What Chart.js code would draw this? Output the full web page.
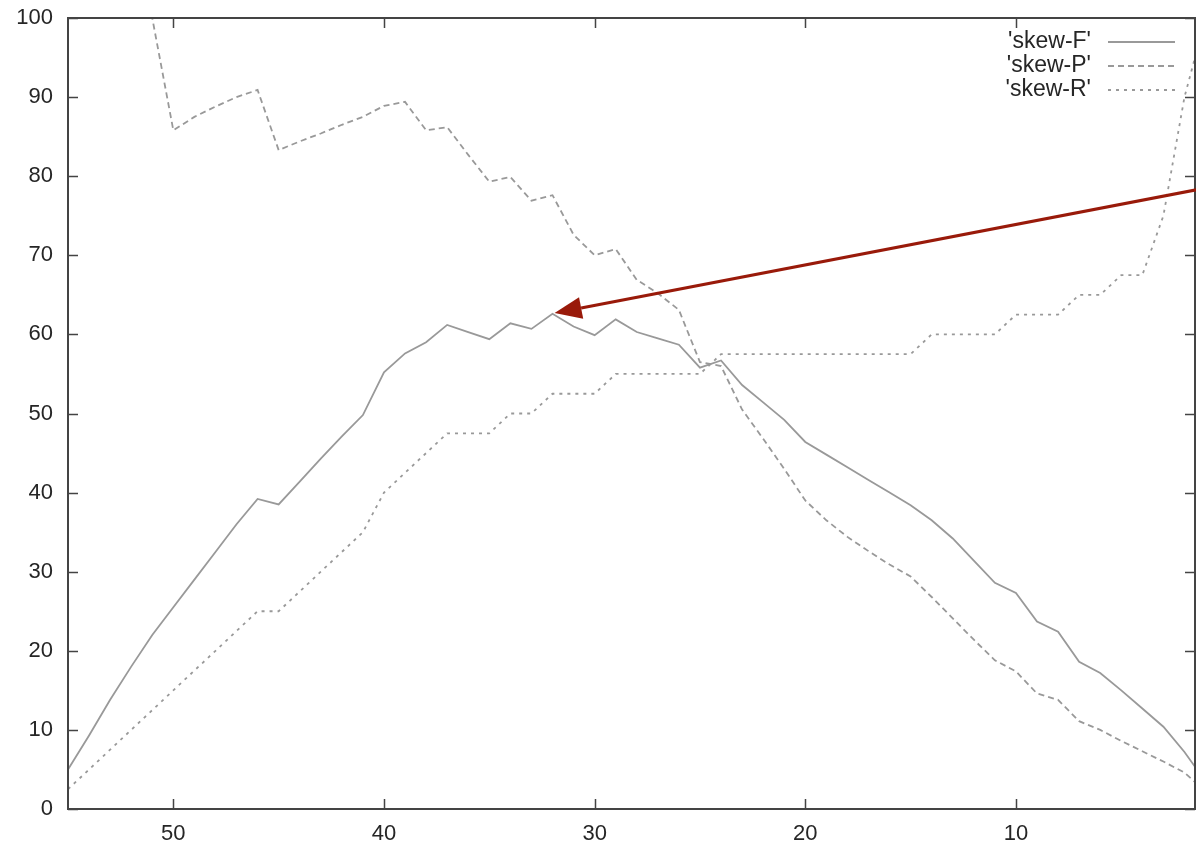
<!DOCTYPE html>
<html>
<head>
<meta charset="utf-8">
<script src="https://cdn.jsdelivr.net/npm/chart.js@4.4.1/dist/chart.umd.min.js"></script>
<style>
  html, body { margin: 0; padding: 0; background: #fff; }
  #wrap { width: 1196px; height: 846px; }
</style>
</head>
<body>
<div id="wrap"><canvas id="myChart" width="1196" height="846"></canvas></div>
<script>
// x runs from 55 down to 1
const steps = [55,54,53,52,51,50,49,48,47,46,45,44,43,42,41,40,39,38,37,36,35,34,33,32,31,30,29,28,
               27,26,25,24,23,22,21,20,19,18,17,16,15,14,13,12,11,10,9,8,7,6,5,4,3,2,1];

const skewF = [5.0,9.3,13.8,18.0,22.0,25.5,29.0,32.5,36.0,39.2,38.5,41.4,44.3,47.1,49.8,55.2,57.6,59.0,61.2,60.3,
               59.4,61.4,60.7,62.6,61.0,59.9,61.9,60.3,59.5,58.7,55.8,56.7,53.6,51.4,49.2,46.4,44.8,43.2,41.6,40.0,
               38.4,36.5,34.2,31.4,28.6,27.3,23.7,22.4,18.6,17.2,15.0,12.7,10.4,7.2,3.5];

const skewP = [100,100,100,100,100,85.8,87.5,88.8,90.0,90.9,83.3,84.4,85.4,86.5,87.5,88.9,89.4,85.8,86.2,82.7,
               79.3,79.9,76.9,77.6,72.6,70.0,70.8,66.9,65.2,63.1,56.5,56.0,50.5,46.8,43.0,39.0,36.5,34.4,32.6,30.9,
               29.4,26.8,24.1,21.4,18.8,17.4,14.6,13.8,11.1,10.0,8.6,7.3,6.0,4.6,2.2];

const skewR = [2.5,5.0,7.5,10.0,12.5,15.0,17.5,20.0,22.5,25.0,25.0,27.5,30.0,32.5,35.0,40.0,42.5,45.0,47.5,47.5,
               47.5,50.0,50.0,52.5,52.5,52.5,55.0,55.0,55.0,55.0,55.0,57.5,57.5,57.5,57.5,57.5,57.5,57.5,57.5,57.5,
               57.5,60.0,60.0,60.0,60.0,62.5,62.5,62.5,65.0,65.0,67.5,67.5,75.0,90.0,100];

const xTicks = [50, 40, 30, 20, 10];
const yTicks = [0, 10, 20, 30, 40, 50, 60, 70, 80, 90, 100];

// arrow annotation, in data units: tail and tip
const arrowFrom = {x: 1.0, y: 78.5};
const arrowTo = {x: 31.9, y: 62.7};

const FONT = '"Liberation Sans", Arial, Helvetica, sans-serif';
const LINE_GRAY = '#999999';

function pts(ys) {
    return steps.map((s, i) => ({x: s, y: ys[i]}));
}

const frameAndTicks = {
    id: 'frameAndTicks',
    afterDatasetsDraw(chart) {
        const ctx = chart.ctx;
        const a = chart.chartArea;
        const xs = chart.scales.x, ys = chart.scales.y;
        const len = 10;
        ctx.save();
        ctx.strokeStyle = '#444';
        ctx.lineWidth = 1.5;
        ctx.beginPath();
        xTicks.forEach(v => {
            const px = Math.round(xs.getPixelForValue(v)) + 0.5;
            ctx.moveTo(px, a.bottom); ctx.lineTo(px, a.bottom - len);
            ctx.moveTo(px, a.top); ctx.lineTo(px, a.top + len);
        });
        yTicks.forEach(v => {
            const py = Math.round(ys.getPixelForValue(v)) + 0.5;
            ctx.moveTo(a.left, py); ctx.lineTo(a.left + len, py);
            ctx.moveTo(a.right, py); ctx.lineTo(a.right - len, py);
        });
        ctx.stroke();
        ctx.lineWidth = 2;
        ctx.strokeRect(a.left, a.top, a.right - a.left, a.bottom - a.top);

        // legend, gnuplot style: text then line sample
        ctx.font = '23px ' + FONT;
        ctx.textAlign = 'right';
        ctx.textBaseline = 'middle';
        chart.data.datasets.forEach((ds, i) => {
            const y = a.top + 24 + i * 24;
            ctx.fillStyle = '#262626';
            ctx.fillText(ds.label, a.right - 104, y);
            ctx.strokeStyle = ds.borderColor;
            ctx.lineWidth = ds.borderWidth;
            ctx.setLineDash(ds.borderDash || []);
            ctx.beginPath();
            ctx.moveTo(a.right - 87, y);
            ctx.lineTo(a.right - 20, y);
            ctx.stroke();
        });
        ctx.setLineDash([]);

        // red arrow
        const x1 = xs.getPixelForValue(arrowFrom.x), y1 = ys.getPixelForValue(arrowFrom.y);
        const x2 = xs.getPixelForValue(arrowTo.x), y2 = ys.getPixelForValue(arrowTo.y);
        const ang = Math.atan2(y2 - y1, x2 - x1);
        const hl = 27, hw = 11;
        const bx = x2 - hl * Math.cos(ang), by = y2 - hl * Math.sin(ang);
        ctx.strokeStyle = '#991a0a';
        ctx.fillStyle = '#991a0a';
        ctx.lineWidth = 3;
        ctx.beginPath();
        ctx.moveTo(x1, y1);
        ctx.lineTo(bx, by);
        ctx.stroke();
        ctx.beginPath();
        ctx.moveTo(x2, y2);
        ctx.lineTo(bx + hw * Math.sin(ang), by - hw * Math.cos(ang));
        ctx.lineTo(bx - hw * Math.sin(ang), by + hw * Math.cos(ang));
        ctx.closePath();
        ctx.fill();
        ctx.restore();
    }
};

const data = {
    datasets: [
        {
            label: "'skew-F'",
            data: pts(skewF),
            borderColor: LINE_GRAY,
            borderWidth: 1.8,
            borderDash: []
        },
        {
            label: "'skew-P'",
            data: pts(skewP),
            borderColor: LINE_GRAY,
            borderWidth: 1.8,
            borderDash: [6, 4]
        },
        {
            label: "'skew-R'",
            data: pts(skewR),
            borderColor: LINE_GRAY,
            borderWidth: 1.8,
            borderDash: [3, 5]
        }
    ]
};

const options = {
    responsive: false,
    animation: false,
    layout: { padding: { top: 18, right: 1, left: 0, bottom: 0 } },
    elements: { point: { radius: 0 }, line: { tension: 0 } },
    plugins: {
        legend: { display: false },
        tooltip: { enabled: false }
    },
    scales: {
        x: {
            type: 'linear',
            reverse: true,
            min: 1.5,
            max: 55,
            grid: { display: false, drawTicks: false },
            border: { display: false },
            afterBuildTicks: s => { s.ticks = xTicks.map(v => ({value: v})); },
            afterFit: s => { s.height = 37; s.paddingLeft = 0; s.paddingRight = 0; },
            ticks: {
                padding: 12,
                color: '#262626',
                font: { family: FONT, size: 22 },
                maxRotation: 0
            }
        },
        y: {
            min: 0,
            max: 100,
            grid: { display: false, drawTicks: false },
            border: { display: false },
            afterBuildTicks: s => { s.ticks = yTicks.map(v => ({value: v})); },
            afterFit: s => { s.width = 68; s.paddingTop = 0; s.paddingBottom = 0; },
            ticks: {
                padding: 15,
                color: '#262626',
                font: { family: FONT, size: 22 }
            }
        }
    }
};

const config = {
    type: 'line',
    data: data,
    options: options,
    plugins: [frameAndTicks]
};

const myChart = new Chart(document.getElementById('myChart'), config);
</script>
</body>
</html>
